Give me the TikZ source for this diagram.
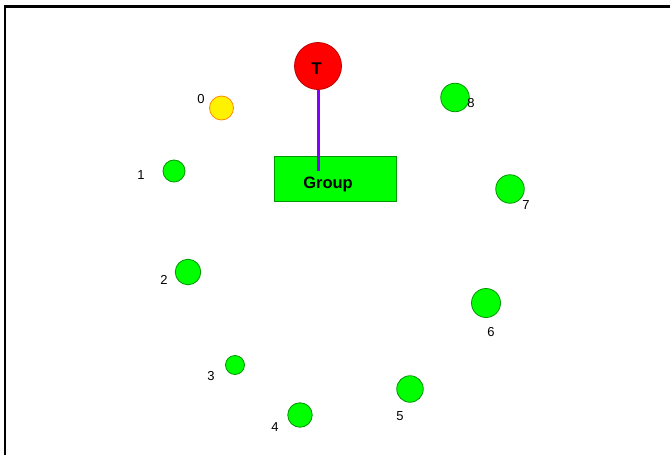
\documentclass[tikz,border=0pt]{standalone}
\usepackage{fontspec}
\setmainfont{Liberation Sans}
\usetikzlibrary{positioning}
\definecolor{tred}{RGB}{255,0,0}
\definecolor{tredline}{RGB}{190,0,0}
\definecolor{grp}{RGB}{0,255,0}
\definecolor{grpline}{RGB}{0,150,0}
\definecolor{selline}{RGB}{255,140,0}
\definecolor{link}{RGB}{130,0,255}

\begin{document}
\begin{tikzpicture}[
  x=1pt,y=-1pt,
  member/.style={circle,draw=grpline,fill=grp,line width=0.8pt,inner sep=0pt},
  chosen/.style={circle,draw=selline,fill=yellow,line width=0.8pt,inner sep=0pt},
  token/.style={circle,draw=tredline,fill=tred,line width=0.8pt,inner sep=0pt,
                minimum size=47pt},
  groupbox/.style={draw=grpline,fill=grp,line width=0.8pt,minimum width=122pt,
                   minimum height=45pt,inner sep=0pt},
  num/.style={inner sep=0pt,font=\fontsize{13}{13}\selectfont},
  tie/.style={draw=link,line width=3pt}
]
\useasboundingbox (0,0) rectangle (670,455);
\draw[line width=2.5pt] (5,456) -- (5,6.5) -- (671,6.5);

% token and group
\node[token] (T) at (318,66) {};
\node[inner sep=0pt,font=\bfseries\fontsize{17}{17}\selectfont] (Tlabel) at (316.5,69) {T};
\node[groupbox] (group) at (335.5,179) {};
\node[font=\bfseries\fontsize{16.5}{16.5}\selectfont] (grouplabel) at (328,184) {Group};
\coordinate (tail) at (318,171);
\draw[tie] (T.south) -- (tail);

% ring of members
\node[chosen,minimum size=24pt] (m0) at (221.5,108) {};
\node[member,minimum size=22pt] (m1) at (174,171) {};
\node[member,minimum size=25.5pt] (m2) at (188,272) {};
\node[member,minimum size=19pt] (m3) at (235,365) {};
\node[member,minimum size=24.5pt] (m4) at (300,415) {};
\node[member,minimum size=26.5pt] (m5) at (410,389) {};
\node[member,minimum size=29pt] (m6) at (486,303) {};
\node[member,minimum size=28.5pt] (m7) at (510,189) {};
\node[member,minimum size=28.5pt] (m8) at (455,97.5) {};

% numbers
\node[num] (n0) at (201,99) {0};
\node[num] (n1) at (141,175.5) {1};
\node[num] (n2) at (164,279.5) {2};
\node[num] (n3) at (211,376) {3};
\node[num] (n4) at (275,427.5) {4};
\node[num] (n5) at (400,416) {5};
\node[num] (n6) at (491,332) {6};
\node[num] (n7) at (526,205.5) {7};
\node[num] (n8) at (471,103) {8};
\end{tikzpicture}
\end{document}
